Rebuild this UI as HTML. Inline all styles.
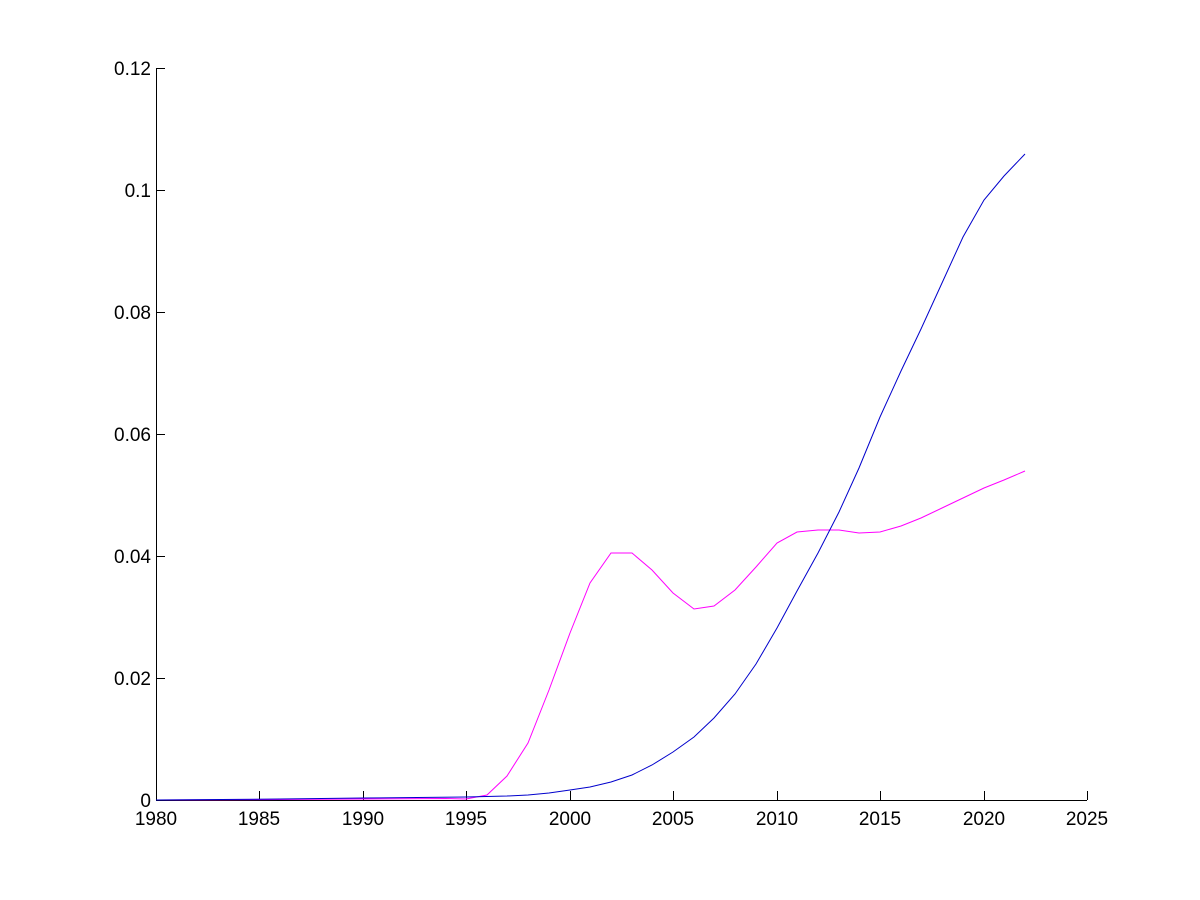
<!DOCTYPE html>
<html><head><style>body{margin:0;background:#fff}svg{display:block}</style></head>
<body>
<svg width="1200" height="900" xmlns="http://www.w3.org/2000/svg" font-family="Liberation Sans, Arial, sans-serif" font-size="19">
<rect width="1200" height="900" fill="#fff"/>
<g stroke="#000" stroke-width="1" fill="none">
<line x1="156.5" y1="68" x2="156.5" y2="800.5"/>
<line x1="156" y1="800.5" x2="1087" y2="800.5"/>
<path d="M156 678.5h9M156 556.5h9M156 434.5h9M156 312.5h9M156 190.5h9M156 68.5h9"/>
<path d="M259.5 800v-9M363.5 800v-9M466.5 800v-9M570.5 800v-9M673.5 800v-9M777.5 800v-9M880.5 800v-9M984.5 800v-9M1087.5 800v-9"/>
</g>
<g text-anchor="end" fill="#000">
<text x="151" y="807">0</text><text x="151" y="685">0.02</text><text x="151" y="563">0.04</text>
<text x="151" y="441">0.06</text><text x="151" y="319">0.08</text><text x="151" y="197">0.1</text><text x="151" y="75">0.12</text>
</g>
<g text-anchor="middle" fill="#000">
<text x="156" y="825">1980</text><text x="259" y="825">1985</text><text x="363" y="825">1990</text><text x="466" y="825">1995</text>
<text x="570" y="825">2000</text><text x="673" y="825">2005</text><text x="777" y="825">2010</text><text x="880" y="825">2015</text>
<text x="984" y="825">2020</text><text x="1087" y="825">2025</text>
</g>
<polyline fill="none" stroke="#ff00ff" stroke-width="1" points="156,800 280,799.5 363,799 446,798.5 466,799 487,795 507,776 528,743 549,690 570,633 590,583 611,553 632,553 652,570 673,593 694,609 714,606 735,590 756,567 777,543 797,532 818,530 839,530 859,533 880,532 901,526 921,518 942,508 963,498 984,488 1004,480 1025,471"/>
<polyline fill="none" stroke="#0000cc" stroke-width="1" points="156,800 280,799 363,798 466,797 507,796 528,795 549,793 570,790 590,787 611,782 632,775 652,765 673,752 694,737 714,718 735,694 756,664 777,628 797,591 818,553 839,512 859,468 880,417 901,371 921,329 942,283 963,237 984,200 1004,176 1025,154"/>
</svg>
</body></html>
